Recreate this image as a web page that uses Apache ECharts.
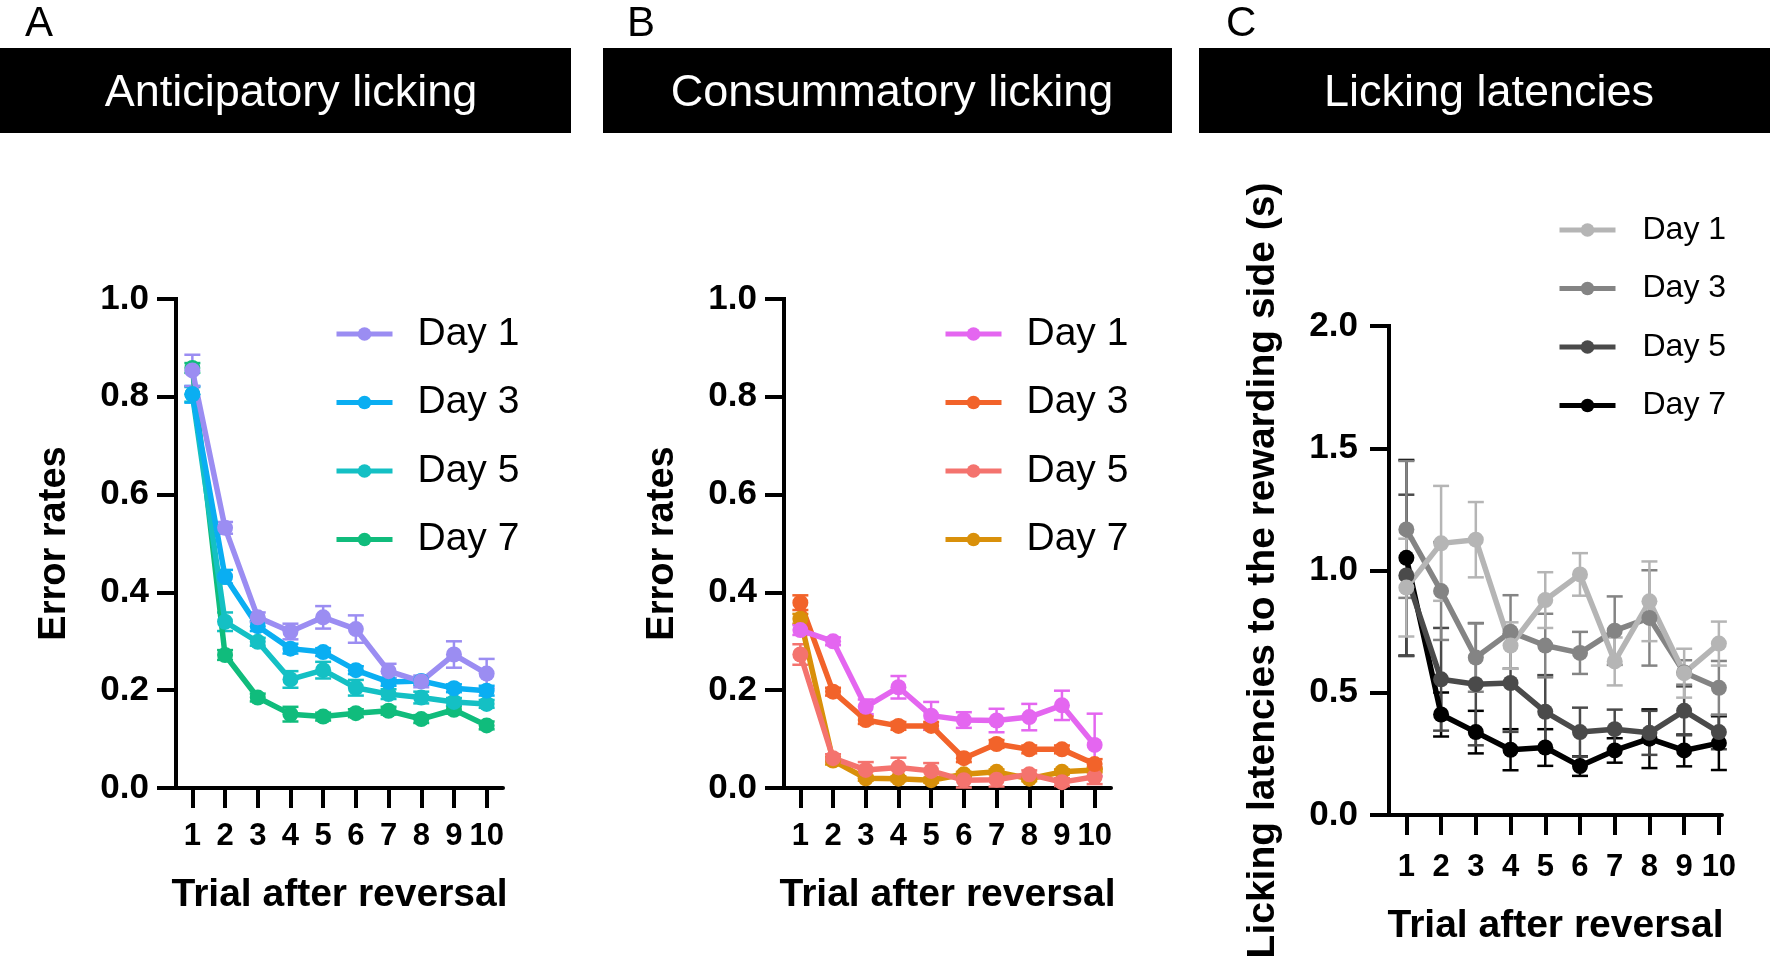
<!DOCTYPE html>
<html>
<head>
<meta charset="utf-8">
<script src="https://cdn.jsdelivr.net/npm/echarts@6/dist/echarts.min.js"></script>
<style>
html,body{margin:0;padding:0;background:#fff;}
#chart{width:1770px;height:962px;}
</style>
</head>
<body>
<div id="chart"></div>
<script>
// ---------- data ----------
const trials = [1, 2, 3, 4, 5, 6, 7, 8, 9, 10];
const dayNames = ['Day 1', 'Day 3', 'Day 5', 'Day 7'];
const panelTitles = ['Anticipatory licking', 'Consummatory licking', 'Licking latencies'];
const panelLetters = ['A', 'B', 'C'];
const xAxisTitle = 'Trial after reversal';
const yAxisTitles = ['Error rates', 'Error rates', 'Licking latencies to the rewarding side (s)'];

// Panel A: anticipatory licking error rates
const A_day1 = [0.854, 0.532, 0.349, 0.320, 0.349, 0.325, 0.239, 0.218, 0.273, 0.234];
const A_day3 = [0.805, 0.432, 0.331, 0.285, 0.278, 0.241, 0.217, 0.219, 0.204, 0.199];
const A_day5 = [0.805, 0.340, 0.299, 0.222, 0.241, 0.205, 0.192, 0.185, 0.176, 0.172];
const A_day7 = [0.859, 0.272, 0.185, 0.151, 0.146, 0.153, 0.158, 0.141, 0.160, 0.128];
const A_err1 = [0.032, 0.012, 0.010, 0.016, 0.023, 0.028, 0.015, 0.012, 0.027, 0.030];
const A_err3 = [0.017, 0.014, 0.010, 0.010, 0.008, 0.008, 0.008, 0.008, 0.008, 0.010];
const A_err5 = [0.015, 0.019, 0.008, 0.017, 0.017, 0.016, 0.010, 0.012, 0.008, 0.008];
const A_err7 = [0.010, 0.010, 0.008, 0.015, 0.008, 0.008, 0.008, 0.008, 0.008, 0.008];

// Panel B: consummatory licking error rates
const B_day1 = [0.323, 0.300, 0.166, 0.206, 0.148, 0.139, 0.138, 0.145, 0.169, 0.088];
const B_day3 = [0.379, 0.197, 0.139, 0.127, 0.127, 0.061, 0.090, 0.079, 0.079, 0.049];
const B_day5 = [0.273, 0.061, 0.037, 0.042, 0.035, 0.016, 0.017, 0.028, 0.012, 0.023];
const B_day7 = [0.346, 0.056, 0.020, 0.019, 0.016, 0.028, 0.033, 0.019, 0.033, 0.037];
const B_err1 = [0.010, 0.008, 0.015, 0.023, 0.028, 0.016, 0.024, 0.027, 0.030, 0.064];
const B_err3 = [0.015, 0.008, 0.008, 0.008, 0.008, 0.008, 0.008, 0.008, 0.008, 0.010];
const B_err5 = [0.021, 0.008, 0.016, 0.020, 0.016, 0.015, 0.014, 0.008, 0.008, 0.015];
const B_err7 = [0.010, 0.008, 0.005, 0.005, 0.005, 0.005, 0.005, 0.005, 0.005, 0.005];

// Panel C: licking latencies (s)
const C_day1 = [0.930, 1.111, 1.126, 0.693, 0.879, 0.984, 0.628, 0.874, 0.580, 0.701];
const C_day3 = [1.168, 0.916, 0.644, 0.749, 0.693, 0.663, 0.754, 0.806, 0.583, 0.520];
const C_day5 = [0.980, 0.555, 0.535, 0.540, 0.422, 0.339, 0.351, 0.336, 0.426, 0.339];
const C_day7 = [1.052, 0.411, 0.339, 0.267, 0.276, 0.200, 0.264, 0.312, 0.264, 0.294];
const C_err1 = [0.200, 0.235, 0.154, 0.095, 0.114, 0.087, 0.098, 0.163, 0.100, 0.090];
const C_err3 = [0.280, 0.200, 0.140, 0.150, 0.130, 0.086, 0.140, 0.195, 0.050, 0.110];
const C_err5 = [0.330, 0.210, 0.250, 0.200, 0.150, 0.100, 0.080, 0.090, 0.100, 0.070];
const C_err7 = [0.400, 0.090, 0.087, 0.084, 0.075, 0.040, 0.050, 0.120, 0.065, 0.110];

// ---------- styles ----------
const FONT = "'Liberation Sans', Arial, Helvetica, sans-serif";
const colorsA = ['#9b8df2', '#0aaef2', '#14c0c4', '#10bc7c'];
const colorsB = ['#e466f0', '#f2632a', '#f4736e', '#d9900a'];
const colorsC = ['#b5b5b5', '#848484', '#4a4a4a', '#000000'];

const panels = [
  { key: 'A', values: [A_day1, A_day3, A_day5, A_day7], errs: [A_err1, A_err3, A_err5, A_err7], colors: colorsA,
    grid: { left: 176, top: 299, width: 327, height: 489 }, xmax: 10.5, ymax: 1.0, yint: 0.2,
    legend: { left: 334, top: 314, font: 39, lh: 40, gap: 28.5, pad: 20 }, yLabelMargin: 27, xLabelMargin: 33, xNameGap: 88, yNameGap: 102, yNameSize: 38 },
  { key: 'B', values: [B_day1, B_day3, B_day5, B_day7], errs: [B_err1, B_err3, B_err5, B_err7], colors: colorsB,
    grid: { left: 784, top: 299, width: 327, height: 489 }, xmax: 10.5, ymax: 1.0, yint: 0.2,
    legend: { left: 943, top: 314, font: 39, lh: 40, gap: 28.5, pad: 20 }, yLabelMargin: 27, xLabelMargin: 33, xNameGap: 88, yNameGap: 102, yNameSize: 38 },
  { key: 'C', values: [C_day1, C_day3, C_day5, C_day7], errs: [C_err1, C_err3, C_err5, C_err7], colors: colorsC,
    grid: { left: 1389, top: 326, width: 333, height: 489 }, xmax: 10.09, ymax: 2.0, yint: 0.5,
    legend: { left: 1557, top: 213, font: 32, lh: 34, gap: 24.5, pad: 22 }, yLabelMargin: 31, xLabelMargin: 37, xNameGap: 92, yNameGap: 106, yNameSize: 39 }
];

function errRender(color) {
  return function (params, api) {
    const x = api.value(0), y = api.value(1), e = api.value(2);
    const top = api.coord([x, y + e]);
    const bot = api.coord([x, Math.max(0, y - e)]);
    const hw = 8;
    const st = { stroke: color, lineWidth: 2.5 };
    return {
      type: 'group',
      children: [
        { type: 'line', shape: { x1: top[0], y1: top[1], x2: bot[0], y2: bot[1] }, style: st },
        { type: 'line', shape: { x1: top[0] - hw, y1: top[1], x2: top[0] + hw, y2: top[1] }, style: st },
        { type: 'line', shape: { x1: bot[0] - hw, y1: bot[1], x2: bot[0] + hw, y2: bot[1] }, style: st }
      ]
    };
  };
}

const grids = [], xAxes = [], yAxes = [], series = [], legends = [], titles = [], graphics = [];

// header bars
const bars = [
  { x: 0, w: 571, cx: 286 },
  { x: 603, w: 569, cx: 887 },
  { x: 1199, w: 571, cx: 1484 }
];
bars.forEach((b, i) => {
  graphics.push({ type: 'rect', left: b.x, top: 48, shape: { width: b.w, height: 85 }, style: { fill: '#000' }, z: -1 });
  titles.push({ text: panelTitles[i], left: b.cx, top: 66, textAlign: 'center',
    textStyle: { color: '#fff', fontSize: 45, fontWeight: 'normal', fontFamily: FONT } });
});
const letterX = [20, 622, 1221];
panelLetters.forEach((l, i) => {
  titles.push({ text: l, left: letterX[i], top: -2,
    textStyle: { color: '#000', fontSize: 42, fontWeight: 'normal', fontFamily: FONT } });
});

panels.forEach((p, pi) => {
  grids.push(Object.assign({ containLabel: false }, p.grid));
  xAxes.push({
    gridIndex: pi, type: 'value', min: 0.5, max: p.xmax,
    axisLine: { show: true, onZero: false, lineStyle: { color: '#000', width: 4 } },
    axisTick: { show: true, length: 20, customValues: trials, lineStyle: { color: '#000', width: 4 } },
    axisLabel: { customValues: trials, color: '#000', fontSize: 31, fontWeight: 'bold', fontFamily: FONT, margin: p.xLabelMargin },
    splitLine: { show: false },
    name: xAxisTitle, nameLocation: 'middle', nameGap: p.xNameGap,
    nameTextStyle: { color: '#000', fontSize: 39, fontWeight: 'bold', fontFamily: FONT }
  });
  yAxes.push({
    gridIndex: pi, type: 'value', min: 0, max: p.ymax, interval: p.yint,
    axisLine: { show: true, onZero: false, lineStyle: { color: '#000', width: 4, cap: 'square' } },
    axisTick: { show: true, length: 19, lineStyle: { color: '#000', width: 4 } },
    axisLabel: { color: '#000', fontSize: 35, fontWeight: 'bold', fontFamily: FONT, margin: p.yLabelMargin,
      formatter: v => v.toFixed(1) },
    splitLine: { show: false },
    name: yAxisTitles[pi], nameLocation: 'middle', nameGap: p.yNameGap, nameRotate: 90,
    nameTextStyle: { color: '#000', fontSize: p.yNameSize, fontWeight: 'bold', fontFamily: FONT }
  });
  // draw order: Day 7 first, Day 1 last (on top)
  for (let d = 3; d >= 0; d--) {
    const color = p.colors[d];
    const name = p.key + '|' + dayNames[d];
    series.push({
      type: 'custom', xAxisIndex: pi, yAxisIndex: pi, silent: true,
      renderItem: errRender(color),
      encode: { x: 0, y: 1 },
      data: trials.map((t, i) => [t, p.values[d][i], p.errs[d][i]]),
      z: 2
    });
    series.push({
      type: 'line', name: name, xAxisIndex: pi, yAxisIndex: pi,
      data: trials.map((t, i) => [t, p.values[d][i]]),
      symbol: 'circle', symbolSize: 16, showSymbol: true,
      lineStyle: { color: color, width: 5.5 },
      itemStyle: { color: color },
      emphasis: { disabled: true },
      animation: false, z: 3
    });
  }
  legends.push({
    data: dayNames.map(n => p.key + '|' + n),
    formatter: n => n.split('|')[1],
    orient: 'vertical', left: p.legend.left, top: p.legend.top, padding: 0,
    itemWidth: 56, itemHeight: 17, itemGap: p.legend.gap,
    selectedMode: false,
    lineStyle: { width: 5 },
    textStyle: { color: '#000', fontSize: p.legend.font, lineHeight: p.legend.lh, fontFamily: FONT,
      padding: [0, 0, 0, p.legend.pad] }
  });
});

const chart = echarts.init(document.getElementById('chart'), null, { renderer: 'canvas' });
chart.setOption({
  animation: false,
  backgroundColor: '#fff',
  title: titles,
  graphic: graphics,
  grid: grids,
  xAxis: xAxes,
  yAxis: yAxes,
  legend: legends,
  series: series
});
</script>
</body>
</html>
